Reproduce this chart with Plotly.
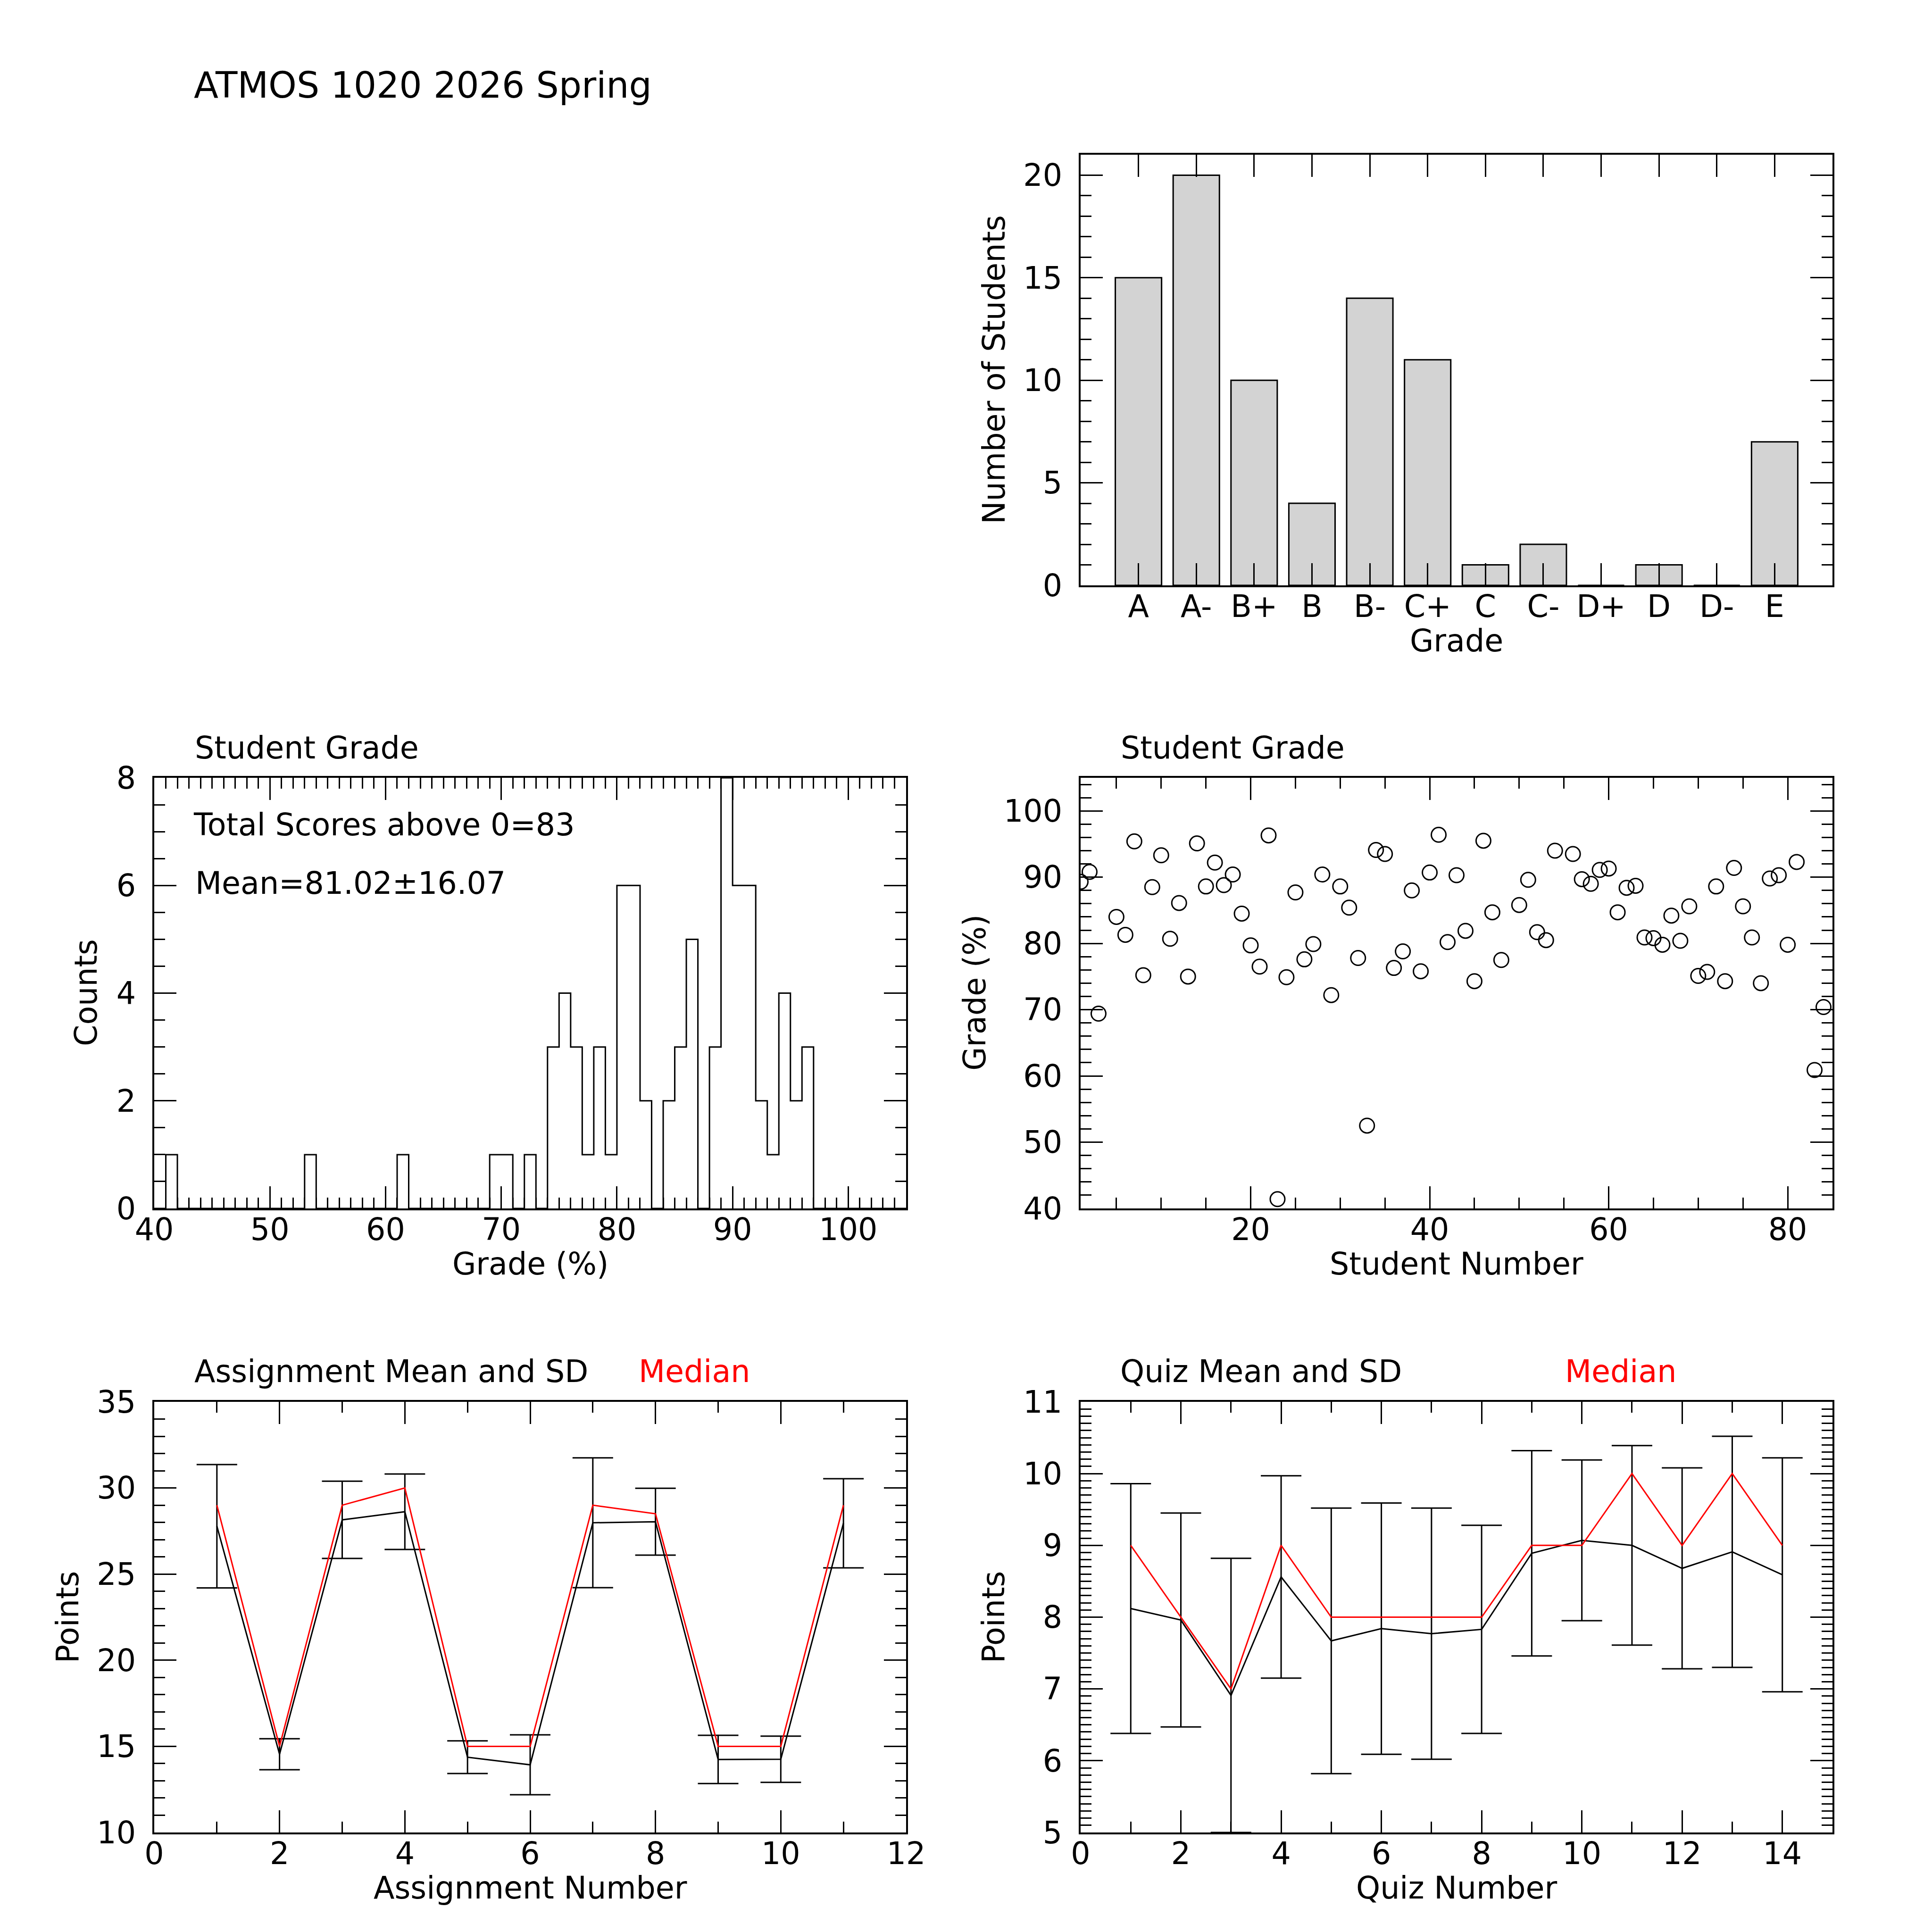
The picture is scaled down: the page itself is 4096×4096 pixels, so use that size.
import plotly.graph_objects as go

# ---------------- data ----------------
grades = ["A", "A-", "B+", "B", "B-", "C+", "C", "C-", "D+", "D", "D-", "E"]
grade_counts = [15, 20, 10, 4, 14, 11, 1, 2, 0, 1, 0, 7]

hist_bin_start = list(range(40, 105))
hist_counts = [0, 1, 0, 0, 0, 0, 0, 0, 0, 0,
               0, 0, 0, 1, 0, 0, 0, 0, 0, 0,
               0, 1, 0, 0, 0, 0, 0, 0, 0, 1,
               1, 0, 1, 0, 3, 4, 3, 1, 3, 1,
               6, 6, 2, 0, 2, 3, 5, 0, 3, 8,
               6, 6, 2, 1, 4, 2, 3, 0, 0, 0,
               0, 0, 0, 0, 0]

student_number = [1, 2, 3, 5, 6, 7, 8, 9, 10, 11, 12, 13, 14, 15, 16, 17, 18, 19, 20,
                  21, 22, 23, 24, 25, 26, 27, 28, 29, 30, 31, 32, 33, 34, 35, 36, 37, 38, 39, 40,
                  41, 42, 43, 44, 45, 46, 47, 48, 50, 51, 52, 53, 54, 56, 57, 58, 59, 60,
                  61, 62, 63, 64, 65, 66, 67, 68, 69, 70, 71, 72, 73, 74, 75, 76, 77, 78, 79, 80,
                  81, 83, 84]
student_grade = [89.3, 90.8, 69.4, 84.0, 81.3, 95.4, 75.2, 88.5, 93.3, 80.7, 86.1, 75.0, 95.1, 88.6, 92.2, 88.8, 90.4, 84.5, 79.7,
                 76.5, 96.3, 41.4, 74.9, 87.7, 77.6, 79.9, 90.4, 72.2, 88.6, 85.4, 77.8, 52.5, 94.1, 93.5, 76.3, 78.8, 88.0, 75.8, 90.7,
                 96.4, 80.2, 90.3, 81.9, 74.3, 95.5, 84.7, 77.5, 85.8, 89.6, 81.7, 80.5, 94.0, 93.5, 89.7, 89.0, 91.1, 91.3,
                 84.7, 88.4, 88.7, 80.9, 80.8, 79.8, 84.2, 80.4, 85.6, 75.1, 75.7, 88.6, 74.3, 91.4, 85.6, 80.9, 74.0, 89.8, 90.3, 79.8,
                 92.3, 60.9, 70.4]

assign_num = [1, 2, 3, 4, 5, 6, 7, 8, 9, 10, 11]
assign_mean = [27.78, 14.54, 28.15, 28.62, 14.37, 13.93, 27.98, 28.04, 14.24, 14.25, 27.95]
assign_sd = [3.58, 0.90, 2.24, 2.19, 0.95, 1.74, 3.77, 1.94, 1.40, 1.34, 2.59]
assign_median = [29, 15, 29, 30, 15, 15, 29, 28.5, 15, 15, 29]

quiz_num = [1, 2, 3, 4, 5, 6, 7, 8, 9, 10, 11, 12, 13, 14]
quiz_mean = [8.12, 7.96, 6.91, 8.56, 7.67, 7.84, 7.77, 7.83, 8.89, 9.07, 9.00, 8.68, 8.91, 8.59]
quiz_sd = [1.74, 1.49, 1.91, 1.41, 1.85, 1.75, 1.75, 1.45, 1.43, 1.12, 1.39, 1.40, 1.61, 1.63]
quiz_median = [9, 8, 7, 9, 8, 8, 8, 8, 9, 9, 10, 9, 10, 9]

# ---------------- layout helpers ----------------
W = H = 4096
PAGE_OFFSET = 8  # default body margin of the html page
FONT = "DejaVu Sans"
FS = 65


def px_x(v):
    return (v - PAGE_OFFSET) / W


def px_y(v):
    return 1 - (v - PAGE_OFFSET) / H


COL1 = [px_x(327), px_x(1921)]
COL2 = [px_x(2291), px_x(3885)]
ROW1 = [px_y(1241), px_y(328)]
ROW2 = [px_y(2562), px_y(1649)]
ROW3 = [px_y(3885), px_y(2972)]


def axis(domain, rng, dtick, minor_dtick, anchor, tick0=None, is_x=True, **kw):
    d = dict(domain=domain, range=rng, anchor=anchor, automargin=False,
             showline=True, linecolor="black", linewidth=4, mirror="allticks",
             ticks="inside", ticklen=47, tickwidth=3, tickcolor="black",
             showgrid=False, zeroline=False, layer="above traces",
             tickfont=dict(family=FONT, size=FS, color="black"),
             ticklabelstandoff=-15 if is_x else 22)
    if dtick is not None:
        d["dtick"] = dtick
        d["tick0"] = tick0 if tick0 is not None else 0
    if minor_dtick is not None:
        d["minor"] = dict(ticks="inside", ticklen=23, tickwidth=3, tickcolor="black",
                          dtick=minor_dtick, tick0=0, showgrid=False)
    d.update(kw)
    return d


fig = go.Figure()

# Bar chart (top right)
fig.add_trace(go.Bar(x=list(range(len(grades))), y=grade_counts, width=0.8,
                     marker=dict(color="#d3d3d3", line=dict(color="black", width=3)),
                     xaxis="x", yaxis="y", showlegend=False))

# Histogram (middle left)
fig.add_trace(go.Scatter(x=hist_bin_start + [hist_bin_start[-1] + 1],
                         y=hist_counts + [hist_counts[-1]],
                         mode="lines", line=dict(color="black", width=3, shape="hv"),
                         xaxis="x2", yaxis="y2", showlegend=False))

# Scatter (middle right)
fig.add_trace(go.Scatter(x=student_number, y=student_grade, mode="markers",
                         marker=dict(symbol="circle-open", size=31, color="black",
                                     line=dict(width=3, color="black")),
                         xaxis="x3", yaxis="y3", showlegend=False))

# Assignment (bottom left)
fig.add_trace(go.Scatter(x=assign_num, y=assign_mean, mode="lines",
                         line=dict(color="black", width=3),
                         error_y=dict(type="data", array=assign_sd, visible=True,
                                      color="black", thickness=3, width=43),
                         xaxis="x4", yaxis="y4", showlegend=False))
fig.add_trace(go.Scatter(x=assign_num, y=assign_median, mode="lines",
                         line=dict(color="red", width=3),
                         xaxis="x4", yaxis="y4", showlegend=False))

# Quiz (bottom right)
fig.add_trace(go.Scatter(x=quiz_num, y=quiz_mean, mode="lines",
                         line=dict(color="black", width=3),
                         error_y=dict(type="data", array=quiz_sd, visible=True,
                                      color="black", thickness=3, width=43),
                         xaxis="x5", yaxis="y5", showlegend=False))
fig.add_trace(go.Scatter(x=quiz_num, y=quiz_median, mode="lines",
                         line=dict(color="red", width=3),
                         xaxis="x5", yaxis="y5", showlegend=False))

layout = dict(
    width=W, height=H, margin=dict(l=0, r=0, t=0, b=0, pad=0, autoexpand=False),
    paper_bgcolor="white", plot_bgcolor="white",
    font=dict(family=FONT, size=FS, color="black"),
    showlegend=False,
    xaxis=axis(COL2, [-1, 12], None, None, "y",
               tickmode="array", tickvals=list(range(len(grades))), ticktext=grades),
    yaxis=axis(ROW1, [0, 21], 5, 1, "x", is_x=False),
    xaxis2=axis(COL1, [40, 105], 10, 1, "y2"),
    yaxis2=axis(ROW2, [0, 8], 2, 0.5, "x2", is_x=False),
    xaxis3=axis(COL2, [1, 85], 20, 5, "y3"),
    yaxis3=axis(ROW2, [40, 105], 10, 2, "x3", is_x=False),
    xaxis4=axis(COL1, [0, 12], 2, 1, "y4"),
    yaxis4=axis(ROW3, [10, 35], 5, 1, "x4", is_x=False),
    xaxis5=axis(COL2, [0, 15], 2, 1, "y5"),
    yaxis5=axis(ROW3, [5, 11], 1, 0.1, "x5", is_x=False),
)
fig.update_layout(**layout)


def ann(text, x, y, size=FS, color="black", xanchor="left", yanchor="middle", angle=0):
    return dict(text=text, x=px_x(x), y=px_y(y), xref="paper", yref="paper",
                xanchor=xanchor, yanchor=yanchor, showarrow=False, textangle=angle,
                font=dict(family=FONT, size=size, color=color))


anns = [
    ann("ATMOS 1020 2026 Spring", 409, 180, size=76),
    # panel titles
    ann("Student Grade", 411, 1585),
    ann("Student Grade", 2374, 1585),
    ann("Assignment Mean and SD", 410, 2907),
    ann("Median", 1352, 2907, color="red"),
    ann("Quiz Mean and SD", 2373, 2907),
    ann("Median", 3316, 2907, color="red"),
    # histogram notes
    ann("Total Scores above 0=83", 408, 1748),
    ann("Mean=81.02\u00b116.07", 412, 1872),
    # x titles
    ann("Grade", 3088, 1358, xanchor="center"),
    ann("Grade (%)", 1124, 2679, xanchor="center"),
    ann("Student Number", 3088, 2679, xanchor="center"),
    ann("Assignment Number", 1124, 4002, xanchor="center"),
    ann("Quiz Number", 3088, 4002, xanchor="center"),
    # y titles
    ann("Number of Students", 2107, 784, xanchor="center", angle=-90),
    ann("Counts", 182, 2105, xanchor="center", angle=-90),
    ann("Grade (%)", 2066, 2105, xanchor="center", angle=-90),
    ann("Points", 143, 3429, xanchor="center", angle=-90),
    ann("Points", 2106, 3429, xanchor="center", angle=-90),
]
fig.update_layout(annotations=anns)

fig.write_html("out.html")
